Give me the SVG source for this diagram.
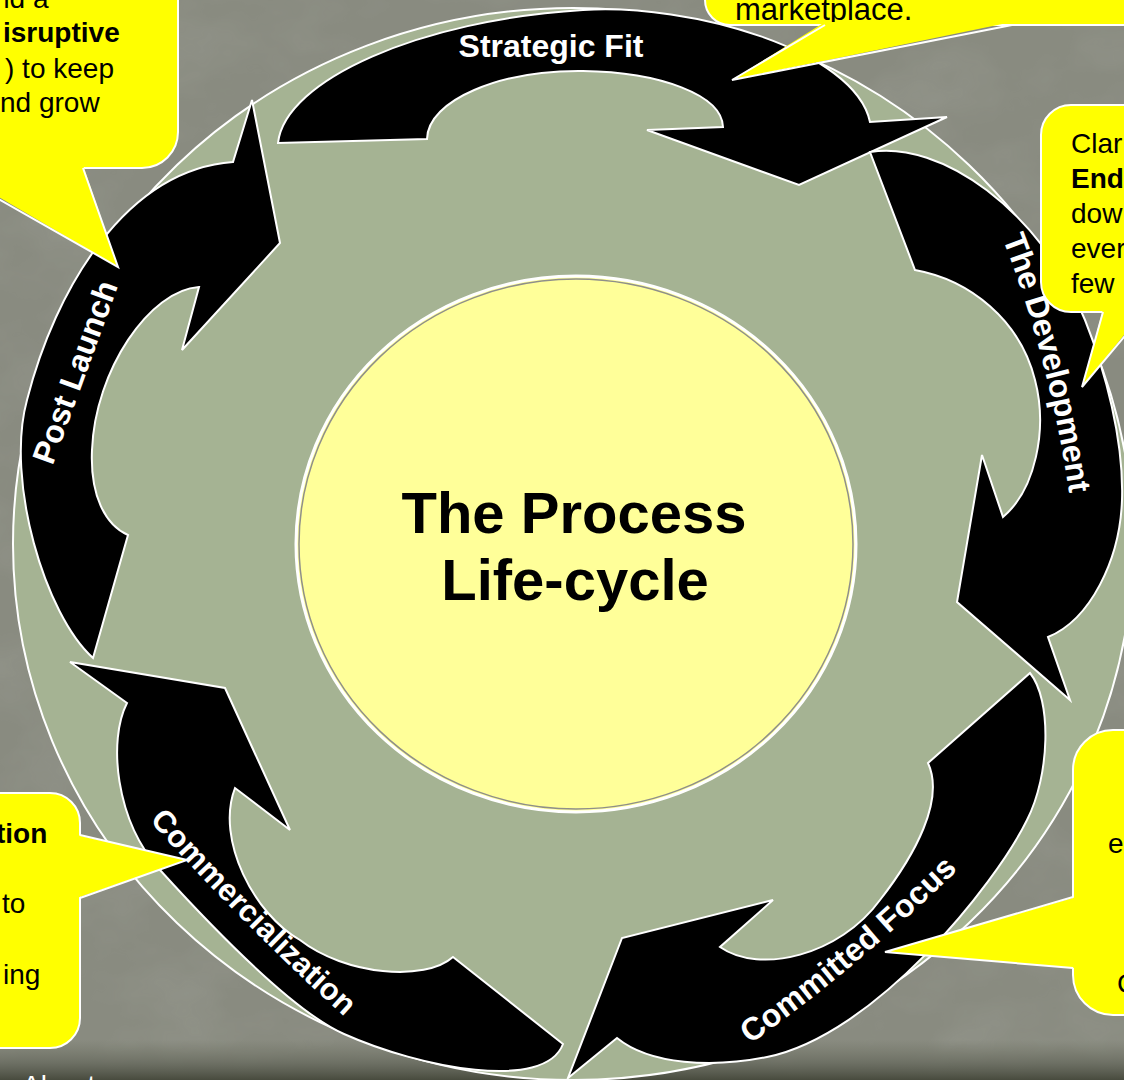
<svg xmlns="http://www.w3.org/2000/svg" width="1124" height="1080" viewBox="0 0 1124 1080">
  <defs>
    <style>
      .stage { fill: #000; stroke: #fff; stroke-width: 2; stroke-linejoin: miter; }
      .box { fill: #ffff00; stroke: #fff; stroke-width: 2; }
      .tip { fill: #ffff00; stroke: none; }
      .tipEdge { fill: none; stroke: #fff; stroke-width: 2; stroke-linejoin: miter; }
      .note { font-family: "Liberation Sans", Arial, sans-serif; font-size: 28px; fill: #000; }
      .b { font-weight: bold; }
      .label { font-family: "Liberation Sans", Arial, sans-serif; font-size: 32px; font-weight: bold; fill: #fff; }
      .title { font-family: "Liberation Sans", Arial, sans-serif; font-size: 58px; font-weight: bold; fill: #000; }
    </style>
    <filter id="mottle" x="0" y="0" width="100%" height="100%">
      <feTurbulence type="fractalNoise" baseFrequency="0.009 0.014" numOctaves="4" seed="7" result="n"/>
      <feColorMatrix in="n" type="matrix" values="0 0 0 0 0.33  0 0 0 0 0.34  0 0 0 0 0.30  0 0 0 1.5 -0.6"/>
    </filter>
    <linearGradient id="ground" x1="0" y1="0" x2="0" y2="1">
      <stop offset="0" stop-color="#6c6f60" stop-opacity="0"/>
      <stop offset="0.55" stop-color="#63665a" stop-opacity="0.7"/>
      <stop offset="1" stop-color="#44473a" stop-opacity="0.95"/>
    </linearGradient>
    <path id="pathDev" d="M1008,222 Q1062,357 1082,505"/>
    <path id="pathFocus" d="M737,1040 Q854,957 956,856"/>
    <path id="pathComm" d="M150,805 Q249,916 360,1016"/>
  </defs>

  <!-- backdrop -->
  <g id="backdrop">
    <rect width="1124" height="1080" fill="#898b80"/>
    <rect width="1124" height="1080" filter="url(#mottle)" opacity="0.55"/>
    <rect x="0" y="1040" width="1124" height="40" fill="url(#ground)"/>
  </g>

  <!-- sage ring behind the cycle -->
  <ellipse id="ring" cx="573" cy="544" rx="560" ry="536" fill="#a5b393" stroke="#fff" stroke-width="2"/>

  <!-- cycle stages -->
  <g id="stage-strategic-fit">
    <path class="stage" d="M278,143 C285,80 420,20 583,10 C690,3 855,50 870,122 L947,117 L799,185 L647,130 L723,127 C722,95 660,72 583,71 C500,70 428,100 427,139 Z"/>
    <text class="label" x="551" y="57" text-anchor="middle">Strategic Fit</text>
  </g>

  <g id="stage-development">
    <path class="stage" d="M870,152 C940,140 1040,210 1085,320 C1105,370 1124,440 1122,500 C1120,560 1090,620 1048,637 L1070,700 L957,602 L982,455 L1003,517 C1035,490 1048,430 1035,380 C1020,320 970,280 915,270 Z"/>
    <text class="label" dy="11"><textPath href="#pathDev" startOffset="50%" text-anchor="middle">The Development</textPath></text>
  </g>

  <g id="stage-committed-focus">
    <path class="stage" d="M1030,673 C1052,700 1050,775 1027,820 C995,885 875,1035 767,1057 C713,1068 650,1065 617,1038 L568,1078 L622,938 L773,900 L720,947 C760,975 840,955 880,900 C915,855 945,800 928,763 Z"/>
    <text class="label" dy="11"><textPath href="#pathFocus" startOffset="50%" text-anchor="middle">Committed Focus</textPath></text>
  </g>

  <g id="stage-commercialization">
    <path class="stage" d="M127,703 C108,740 115,820 160,870 C200,914 290,1010 344,1034 C420,1068 545,1092 563,1044 L453,957 C425,982 345,975 300,940 C255,915 215,840 235,788 L290,830 L225,688 L70,662 Z"/>
    <text class="label" style="font-size:31px" dy="11"><textPath href="#pathComm" startOffset="50%" text-anchor="middle">Commercialization</textPath></text>
  </g>

  <g id="stage-post-launch">
    <path class="stage" d="M93,658 C45,615 5,480 27,400 C55,290 125,170 233,162 L252,100 L280,243 L182,350 L199,287 C150,290 95,370 92,450 C90,495 105,525 128,535 Z"/>
    <text class="label" transform="translate(75,372) rotate(-70)" text-anchor="middle" dy="11">Post Launch</text>
  </g>

  <!-- hub -->
  <g id="hub">
    <ellipse cx="576" cy="544" rx="280" ry="268" fill="#ffff99" stroke="#fff" stroke-width="3"/>
    <ellipse cx="576" cy="544" rx="277" ry="265" fill="none" stroke="#8f8f8a" stroke-width="1.5"/>
    <text class="title" x="574" y="533" text-anchor="middle">The Process</text>
    <text class="title" x="575" y="600" text-anchor="middle">Life-cycle</text>
  </g>

  <!-- note boxes -->
  <g id="note-top-left">
    <path class="box" d="M-60,-60 H178 V132 A36,36 0 0 1 142,168 H-60 Z"/>
    <text class="note" x="-6" y="8">nd a</text>
    <text class="note b" x="3" y="42">isruptive</text>
    <text class="note" x="5" y="78">) to keep</text>
    <text class="note" x="0" y="112">nd grow</text>
  </g>

  <g id="note-top">
    <path class="box" d="M705,-60 H1200 V25 H730 A25,25 0 0 1 705,0 Z"/>
    <text class="note" x="735" y="20" style="font-size:31px">marketplace.</text>
  </g>

  <g id="note-right">
    <path class="box" d="M1071,105 H1200 V312 H1071 A30,30 0 0 1 1041,282 V135 A30,30 0 0 1 1071,105 Z"/>
    <text class="note" x="1071" y="153">Clar</text>
    <text class="note b" x="1071" y="188">End</text>
    <text class="note" x="1071" y="223">dow</text>
    <text class="note" x="1071" y="258">ever</text>
    <text class="note" x="1071" y="293">few</text>
  </g>

  <g id="note-bottom-right">
    <path class="box" d="M1113,730 H1200 V1015 H1113 A40,40 0 0 1 1073,975 V770 A40,40 0 0 1 1113,730 Z"/>
    <text class="note" x="1108" y="853">e</text>
    <text class="note" x="1117" y="993">C</text>
  </g>

  <g id="note-bottom-left">
    <path class="box" d="M-60,793 H50 A30,30 0 0 1 80,823 V1018 A30,30 0 0 1 50,1048 H-60 Z"/>
    <text class="note b" x="-4" y="843">tion</text>
    <text class="note" x="2" y="913">to</text>
    <text class="note" x="3" y="984">ing</text>
  </g>

  <!-- pointers from the notes to the stages -->
  <g id="connectors">
    <polygon class="tip" points="-56,165 83,165 118,267"/>
    <polyline class="tipEdge" points="-56,168 118,267 83,168"/>

    <polygon class="tip" points="825,22 1012,22 732,80"/>
    <polyline class="tipEdge" points="1012,25 732,80 825,25"/>

    <polygon class="tip" points="1103,309 1145,309 1082,387"/>
    <polyline class="tipEdge" points="1103,312 1082,387 1145,312"/>

    <polygon class="tip" points="1076,897 1076,968 885,952"/>
    <polyline class="tipEdge" points="1073,897 885,952 1073,968"/>

    <polygon class="tip" points="77,835 77,898 187,860"/>
    <polyline class="tipEdge" points="80,835 187,860 80,898"/>
  </g>

  <text x="22" y="1095" style="font-family:'Liberation Sans', Arial, sans-serif; font-size:28px; fill:#fff">About</text>
</svg>
